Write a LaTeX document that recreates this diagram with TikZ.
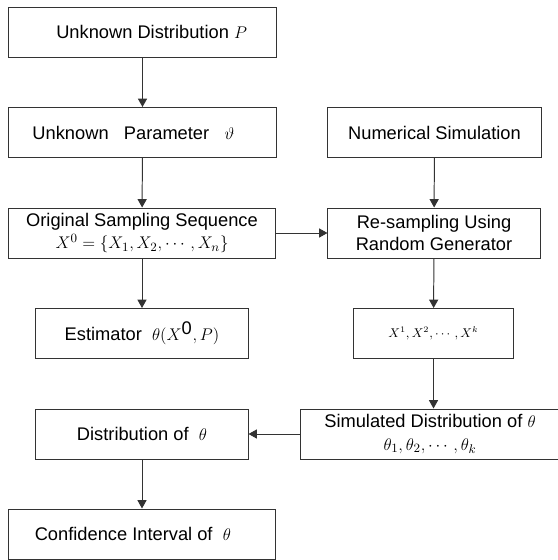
\documentclass[tikz,border=0pt]{standalone}
\usepackage{amsmath}
\usepackage{fontspec}
\setmainfont{Liberation Sans}
\usepackage{tikz}
\usetikzlibrary{arrows.meta, positioning}

\begin{document}
\begin{tikzpicture}[x=0.025cm, y=-0.025cm,
    box/.style={draw=black!80, line width=0.7pt, minimum height=1.25cm, inner sep=0pt,
      align=center, font=\fontsize{13}{16}\selectfont},
    arr/.style={draw=black!80, line width=0.7pt, -{Triangle[length=6pt, width=6.5pt]}}]
  \useasboundingbox (0,0) rectangle (558,560);

  % left column
  \node[box, minimum width=6.675cm] (P) at (142.5,32) {\quad Unknown Distribution $P$};
  \node[box, minimum width=6.675cm] (par) at (142.5,132.5) {Unknown\ \ \ Parameter\ \ \ $\vartheta$\quad};
  \node[box, minimum width=6.65cm] (orig) at (142,233) {Original Sampling Sequence\\ $X^0=\{X_1,X_2,\cdots,X_n\}$};
  \node[box, minimum width=5.3cm] (est) at (142,333.5) {Estimator\ \ $\theta(X^{\mbox{0}},P)$};
  \node[box, minimum width=5.3cm] (dist) at (142,434) {Distribution of\ \ $\theta$};
  \node[box, minimum width=6.65cm] (conf) at (142,534) {Confidence Interval of\ \ $\theta$\quad};

  % right column
  \node[box, minimum width=5.325cm] (num) at (434.5,132.5) {Numerical Simulation};
  \node[box, minimum width=5.3cm] (resamp) at (434,233) {Re-sampling Using\\ Random Generator};
  \node[box, minimum width=3.975cm, font=\small] (Xk) at (433.5,333.5) {$X^1,X^2,\cdots,X^k$};
  \node[box, minimum width=6.45cm] (sim) at (430,434) {Simulated Distribution of $\theta$\\ $\theta_1,\theta_2,\cdots,\theta_k$};

  \draw[arr] (P) -- (par);
  \draw[arr] (par) -- (orig);
  \draw[arr] (orig) -- (est);
  \draw[arr] (orig) -- (resamp);
  \draw[arr] (num) -- (resamp);
  \draw[arr] (resamp) -- (Xk);
  \draw[arr] (Xk.south) -- (Xk.south |- sim.north);
  \draw[arr] (sim) -- (dist);
  \draw[arr] (dist) -- (conf);
\end{tikzpicture}
\end{document}
